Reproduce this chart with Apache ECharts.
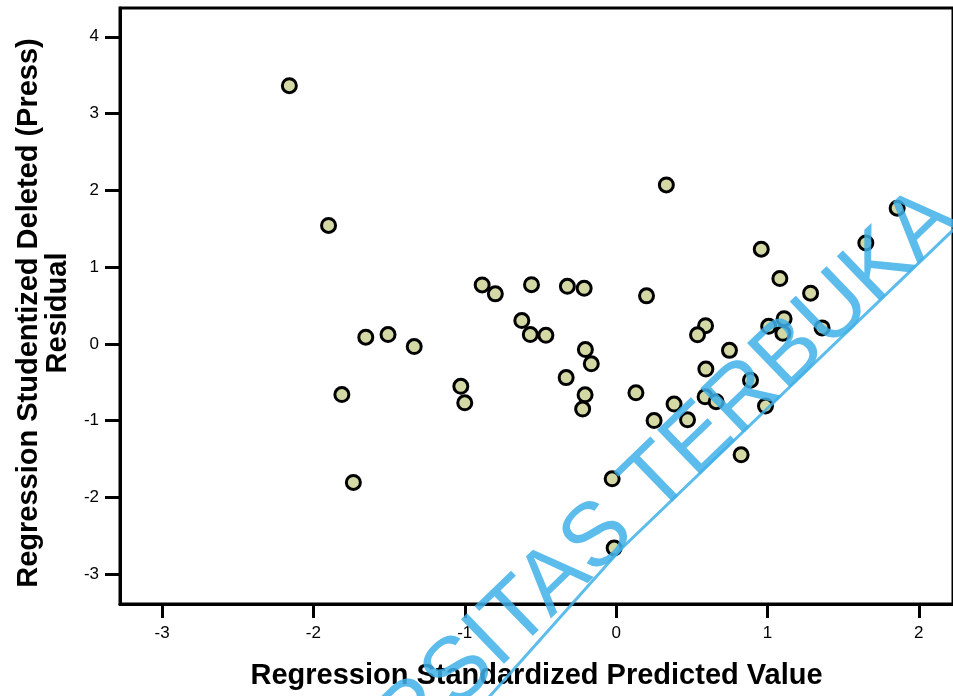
<!DOCTYPE html>
<html>
<head>
<meta charset="utf-8">
<style>
  html, body { margin: 0; padding: 0; background: #fff; }
  #chart { width: 953px; height: 696px; }
</style>
<script src="https://cdn.jsdelivr.net/npm/echarts@6/dist/echarts.min.js"></script>
</head>
<body>
<div id="chart"></div>
<script>
// standardized predicted value (x) and studentized deleted residual (y)
const predicted = [
  -2.159, -1.900, -1.654, -1.507, -1.334, -1.812, -1.736, -1.026, -1.000, -0.885,
  -0.798, -0.559, -0.322, -0.211, -0.623, -0.567, -0.464, -0.203, -0.164, -0.330,
  -0.205, -0.221, 0.201, 0.332, 0.131, 0.383, 0.251, 0.472, 0.591, 0.538,
  0.749, 0.593, 0.888, 0.588, 0.661, 0.987, 0.826, -0.026, -0.013, 0.959,
  1.082, 1.285, 1.008, 1.110, 1.102, 1.361, 1.650, 1.857
];
const residual = [
  3.363, 1.543, 0.087, 0.121, -0.035, -0.661, -1.806, -0.553, -0.768, 0.768,
  0.651, 0.771, 0.749, 0.723, 0.303, 0.121, 0.111, -0.074, -0.260, -0.440,
  -0.664, -0.850, 0.625, 2.070, -0.638, -0.784, -1.000, -0.990, 0.237, 0.117,
  -0.085, -0.329, -0.473, -0.690, -0.753, -0.811, -1.445, -1.758, -2.660, 1.233,
  0.850, 0.660, 0.228, 0.328, 0.137, 0.208, 1.315, 1.767
];
const xTicks = [-3, -2, -1, 0, 1, 2];
const yTicks = [-3, -2, -1, 0, 1, 2, 3, 4];
const xTitle = 'Regression Standardized Predicted Value';
const yTitle = 'Regression Studentized Deleted (Press)\nResidual';
const watermark = 'UNIVERSITAS TERBUKA';

const font = '"Liberation Sans", Arial, sans-serif';
const chart = echarts.init(document.getElementById('chart'));

const points = predicted.map((x, i) => [x, residual[i]]);
const wmColor = 'rgba(64, 176, 232, 0.85)';

const option = {
  animation: false,
  grid: {
    left: 120,
    top: 8,
    right: -3,
    bottom: 92,
    show: true,
    borderColor: '#000',
    borderWidth: 3,
    backgroundColor: '#fff'
  },
  xAxis: {
    type: 'value',
    min: -3.278,
    max: 2.226,
    splitLine: { show: false },
    axisLine: { show: true, onZero: false, lineStyle: { color: '#000', width: 3 } },
    axisTick: { show: true, length: 14, customValues: xTicks, lineStyle: { color: '#000', width: 3 } },
    axisLabel: {
      color: '#000',
      fontFamily: font,
      fontSize: 17,
      margin: 21,
      customValues: xTicks
    },
    name: xTitle,
    nameLocation: 'middle',
    nameGap: 57,
    nameTextStyle: { color: '#000', fontFamily: font, fontSize: 29, fontWeight: 'bold' }
  },
  yAxis: {
    type: 'value',
    min: -3.389,
    max: 4.375,
    splitLine: { show: false },
    axisLine: { show: true, onZero: false, lineStyle: { color: '#000', width: 3 } },
    axisTick: { show: true, length: 15, customValues: yTicks, lineStyle: { color: '#000', width: 3 } },
    axisLabel: {
      color: '#000',
      fontFamily: font,
      fontSize: 17,
      margin: 21,
      customValues: yTicks
    },
    name: yTitle,
    nameLocation: 'middle',
    nameGap: 46,
    nameTextStyle: {
      color: '#000', fontFamily: font, fontSize: 29, fontWeight: 'bold', lineHeight: 29,
      padding: [0, 14, 0, 0]
    }
  },
  series: [
    {
      type: 'scatter',
      data: points,
      symbol: 'circle',
      symbolSize: 14,
      itemStyle: { color: '#d4d8a4', borderColor: '#000', borderWidth: 3, opacity: 1 },
      emphasis: { disabled: true },
      z: 2
    }
  ],
  graphic: {
    elements: [
      {
        type: 'text',
        x: 975,
        y: 237,
        rotation: 44 * Math.PI / 180,
        z: 100,
        silent: true,
        style: {
          text: watermark,
          font: '90px ' + font,
          fill: wmColor,
          align: 'right',
          verticalAlign: 'bottom'
        }
      },
      {
        type: 'polyline',
        z: 100,
        silent: true,
        shape: { points: [[466, 723], [620, 550], [975, 209]] },
        style: { stroke: wmColor, lineWidth: 3, fill: null }
      }
    ]
  }
};

chart.setOption(option);
</script>
</body>
</html>
